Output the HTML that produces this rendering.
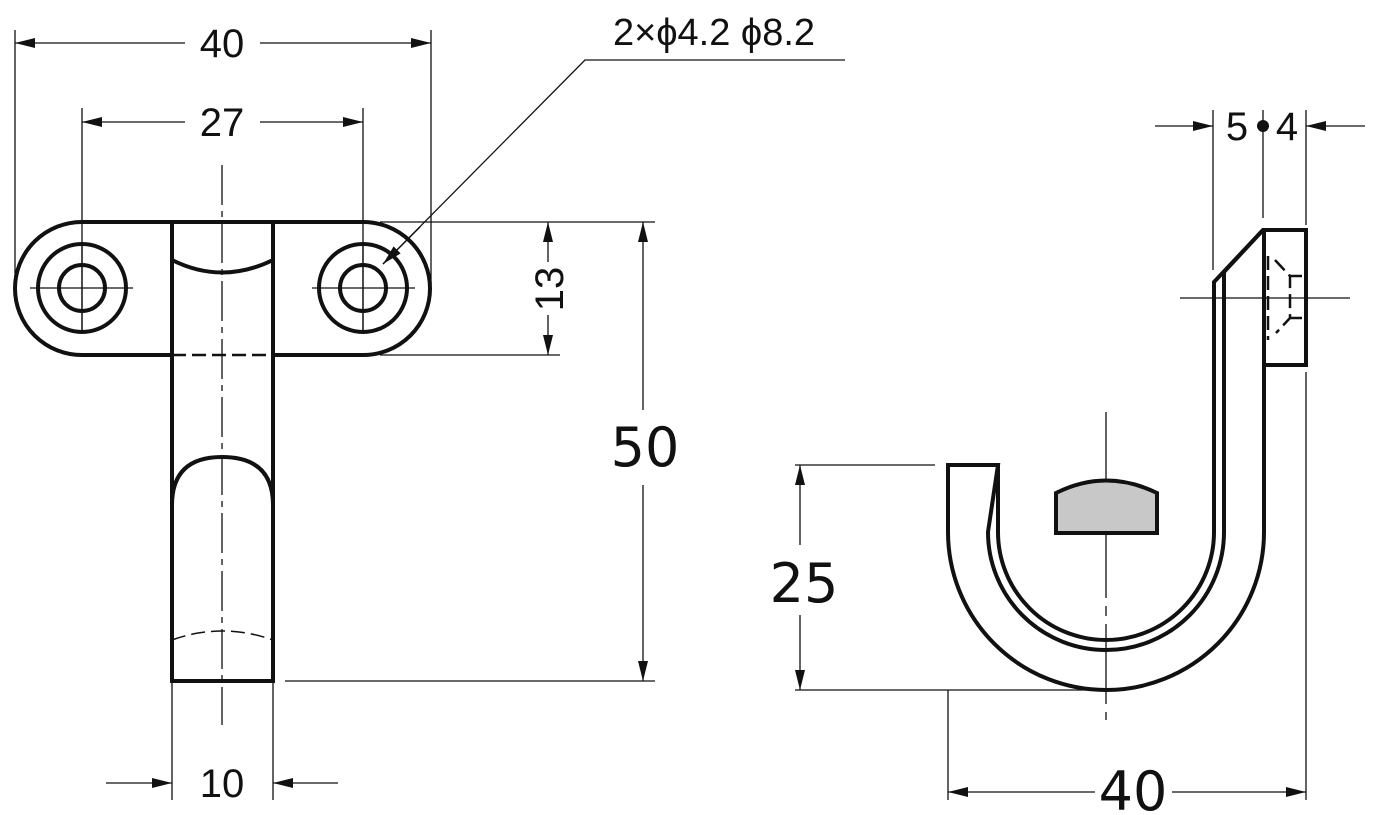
<!DOCTYPE html>
<html><head><style>body{margin:0;background:#fff}svg{display:block}</style></head><body>
<svg width="1383" height="815" viewBox="0 0 1383 815" xmlns="http://www.w3.org/2000/svg">
<defs>
<marker id="a" viewBox="0 0 20 10" refX="20" refY="5" markerWidth="20" markerHeight="10" markerUnits="userSpaceOnUse" orient="auto"><path d="M0,0 L20,5 L0,10z" fill="#111"/></marker>
</defs>
<g stroke="#111" stroke-width="1.3" fill="none">
<line x1="15" y1="30" x2="15" y2="285"/>
<line x1="431" y1="30" x2="431" y2="285"/>
<line x1="82" y1="108" x2="82" y2="330"/>
<line x1="363" y1="108" x2="363" y2="330"/>
<line x1="380" y1="222" x2="655" y2="222"/>
<line x1="380" y1="355" x2="560" y2="355"/>
<line x1="285" y1="681" x2="655" y2="681"/>
<line x1="172" y1="681" x2="172" y2="800"/>
<line x1="273" y1="681" x2="273" y2="800"/>
<line x1="185" y1="43" x2="15" y2="43" marker-end="url(#a)"/>
<line x1="260" y1="43" x2="431" y2="43" marker-end="url(#a)"/>
<line x1="185" y1="122" x2="82" y2="122" marker-end="url(#a)"/>
<line x1="260" y1="122" x2="363" y2="122" marker-end="url(#a)"/>
<line x1="548" y1="262" x2="548" y2="222" marker-end="url(#a)"/>
<line x1="548" y1="315" x2="548" y2="355" marker-end="url(#a)"/>
<line x1="643" y1="410" x2="643" y2="222" marker-end="url(#a)"/>
<line x1="643" y1="485" x2="643" y2="681" marker-end="url(#a)"/>
<line x1="106" y1="783" x2="172" y2="783" marker-end="url(#a)"/>
<line x1="338" y1="783" x2="273" y2="783" marker-end="url(#a)"/>
<polyline points="845,60 585,60 383,264"/>
<line x1="420" y1="227" x2="383" y2="264" marker-end="url(#a)"/>
<line x1="222" y1="165" x2="222" y2="725" stroke-dasharray="40,6,6,6"/>
<line x1="82" y1="245" x2="82" y2="332"/><line x1="30" y1="288" x2="133" y2="288"/>
<line x1="363" y1="245" x2="363" y2="332"/><line x1="312" y1="288" x2="415" y2="288"/>
<line x1="1213" y1="110" x2="1213" y2="270"/>
<line x1="1263" y1="110" x2="1263" y2="218"/>
<line x1="1306" y1="110" x2="1306" y2="225"/>
<line x1="1306" y1="372" x2="1306" y2="800"/>
<line x1="948" y1="690" x2="948" y2="800"/>
<line x1="795" y1="465" x2="935" y2="465"/>
<line x1="795" y1="690" x2="1106" y2="690"/>
<line x1="1155" y1="126" x2="1213" y2="126" marker-end="url(#a)"/>
<line x1="1365" y1="126" x2="1306" y2="126" marker-end="url(#a)"/>
<line x1="800" y1="545" x2="800" y2="465" marker-end="url(#a)"/>
<line x1="800" y1="615" x2="800" y2="690" marker-end="url(#a)"/>
<line x1="1095" y1="792" x2="948" y2="792" marker-end="url(#a)"/>
<line x1="1172" y1="792" x2="1306" y2="792" marker-end="url(#a)"/>
<line x1="1106" y1="412" x2="1106" y2="720" stroke-dasharray="80,8,10,8"/>
<line x1="1180" y1="298" x2="1350" y2="298"/>
</g>
<circle cx="1263" cy="126" r="6" fill="#111"/>
<g stroke="#111" stroke-width="4" fill="none">
<path d="M172,222 H82 A67,66.5 0 0 0 82,355 H172"/>
<path d="M273,222 H363 A67,66.5 0 0 1 363,355 H273"/>
<rect x="172" y="222" width="101" height="459"/>
<path d="M172,260 Q222,285 273,260"/>
<path d="M172,505 Q172,457 222,457 Q273,457 273,505"/>
<circle cx="82" cy="288" r="44"/><circle cx="82" cy="288" r="23"/>
<circle cx="363" cy="288" r="44"/><circle cx="363" cy="288" r="23"/>
<path d="M948,465 H998 L988,532 A118,118 0 0 0 1224,532 V272 L1263,230 H1306 V365 H1264 V532 A158,158 0 0 1 948,532 Z"/>
<path d="M998,465 V532 A108,108 0 0 0 1214,532 V282 L1263,230"/>
<line x1="1264" y1="230" x2="1264" y2="365"/>
<path d="M1056,533 V493 Q1106,468 1157,493 V533 Z" fill="#c8c8c8"/>
</g>
<g stroke="#111" stroke-width="2.5" fill="none" stroke-dasharray="14,6">
<path d="M172,355 H273"/>
<path d="M172,640 Q222,622 273,640" stroke-width="1.5"/>
<path d="M1268,256 V340 M1275,260 L1290,276 V318 L1276,333"/>
<line x1="1290" y1="318" x2="1302" y2="318" stroke-dasharray="none"/>
<line x1="1290" y1="276" x2="1302" y2="276" stroke-dasharray="none"/>
</g>
<g font-family="Liberation Sans, sans-serif" font-size="40" fill="#111" text-anchor="middle">
<text x="222" y="57">40</text>
<text x="222" y="136">27</text>
<text x="222" y="797">10</text>
<text x="714" y="45" font-size="38">2×ϕ4.2 ϕ8.2</text>
<text x="1237" y="140">5</text>
<text x="1287" y="140">4</text>
<text transform="translate(563,289) rotate(-90)">13</text>
</g>
<g font-family="DejaVu Sans, sans-serif" font-size="54" fill="#111" text-anchor="middle">
<text x="645" y="466">50</text>
<text x="804" y="602">25</text>
<text x="1133" y="810">40</text>
</g>
</svg>
</body></html>
